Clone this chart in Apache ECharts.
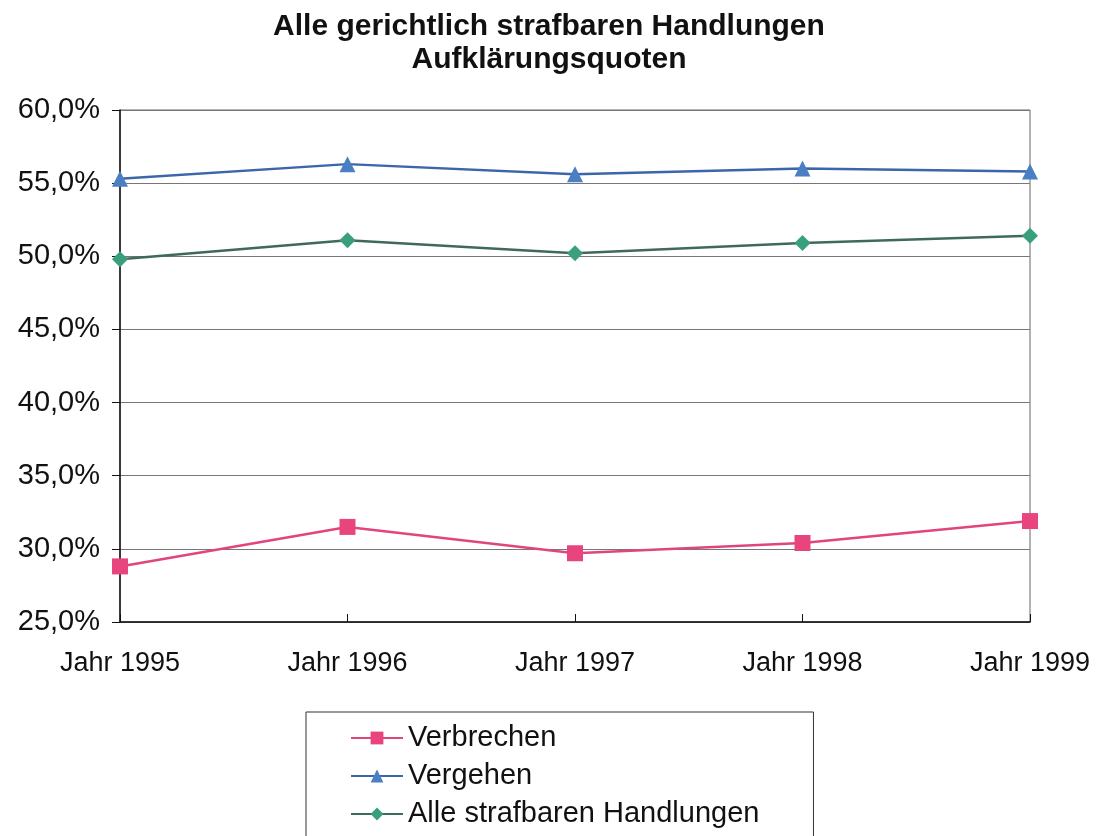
<!DOCTYPE html>
<html><head><meta charset="utf-8">
<script src="https://cdn.jsdelivr.net/npm/echarts@6/dist/echarts.min.js"></script>
<style>html,body{margin:0;padding:0;background:#fff}#c{width:1098px;height:836px}</style>
</head><body><div id="c"></div>
<script>
var categories = ['Jahr 1995','Jahr 1996','Jahr 1997','Jahr 1998','Jahr 1999'];
var verbrechen = [28.8, 31.5, 29.7, 30.4, 31.9];
var vergehen = [55.3, 56.3, 55.6, 56.0, 55.8];
var alle = [49.8, 51.1, 50.2, 50.9, 51.4];
var yTicks = [25, 30, 35, 40, 45, 50, 55, 60];

var chart = echarts.init(document.getElementById('c'));
var font = 'Liberation Sans, Arial, sans-serif';
chart.setOption({
  backgroundColor: '#fff',
  animation: false,
  title: {
    text: 'Alle gerichtlich strafbaren Handlungen\nAufklärungsquoten',
    left: 'center', top: 5,
    textStyle: {fontFamily: font, fontSize: 30, fontWeight: 'bold', color: '#111', lineHeight: 33}
  },
  grid: {left: 120, right: 68, top: 110, bottom: 214, show: true, borderColor: '#666', borderWidth: 1, backgroundColor: 'transparent'},
  xAxis: {
    type: 'category', data: categories, boundaryGap: false,
    axisLine: {lineStyle: {color: '#111', width: 1.5}},
    axisTick: {show: true, inside: true, length: 8, lineStyle: {color: '#111'}},
    axisLabel: {fontFamily: font, fontSize: 27, color: '#111', margin: 28, interval: 0},
    splitLine: {show: false}
  },
  yAxis: {
    type: 'value', min: yTicks[0], max: yTicks[yTicks.length-1], interval: 5,
    axisLine: {show: true, lineStyle: {color: '#111', width: 1.5}},
    axisTick: {show: true, length: 8, lineStyle: {color: '#111'}},
    axisLabel: {fontFamily: font, fontSize: 29, color: '#111', margin: 20,
      formatter: function(v){ return v.toFixed(1).replace('.', ',') + '%'; }},
    splitLine: {show: true, lineStyle: {color: '#777', width: 1}}
  },
  legend: {
    orient: 'vertical', left: 306, top: 712, height: 160,
    padding: [11, 54, 24, 44],
    itemGap: 8, itemWidth: 52, itemHeight: 16,
    borderColor: '#333', borderWidth: 1,
    textStyle: {fontFamily: font, fontSize: 29, color: '#111', lineHeight: 30},
    data: ['Verbrechen', 'Vergehen', 'Alle strafbaren Handlungen']
  },
  series: [
    {name: 'Verbrechen', type: 'line', data: verbrechen, symbol: 'rect', symbolSize: 16,
     lineStyle: {color: '#e0457f', width: 2.5}, itemStyle: {color: '#e8457f'}},
    {name: 'Vergehen', type: 'line', data: vergehen, symbol: 'triangle', symbolSize: 16,
     lineStyle: {color: '#3b66aa', width: 2.5}, itemStyle: {color: '#4a7fc4'}},
    {name: 'Alle strafbaren Handlungen', type: 'line', data: alle, symbol: 'diamond', symbolSize: 16,
     lineStyle: {color: '#3f6a58', width: 2.5}, itemStyle: {color: '#3aa07c'}}
  ]
});
</script></body></html>
